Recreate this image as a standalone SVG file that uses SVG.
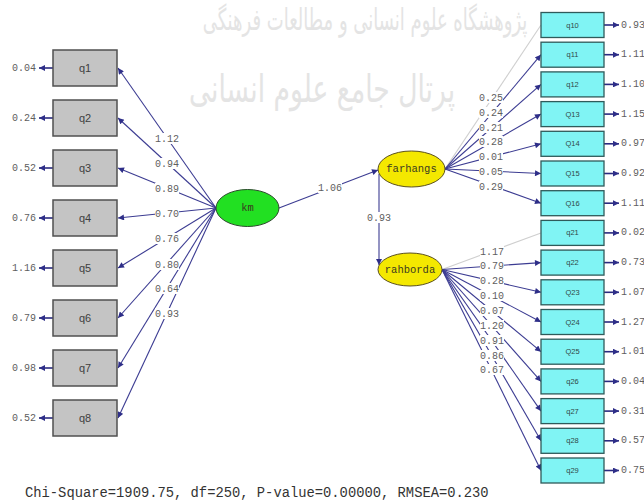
<svg xmlns="http://www.w3.org/2000/svg" width="644" height="502" viewBox="0 0 644 502">
<style>
.wm{font-family:"DejaVu Sans",sans-serif;fill:#e4e4e4;text-anchor:middle}
.lb{fill:#c4c4c4;stroke:#505050;stroke-width:1.5}
.rb{fill:#80f4f4;stroke:#2f5a5a;stroke-width:1.3}
.lt{font-family:"Liberation Sans",Arial,sans-serif;font-size:11px;fill:#404040;text-anchor:middle;dominant-baseline:central}
.rt{font-family:"Liberation Sans",Arial,sans-serif;font-size:7.5px;fill:#304848;text-anchor:middle;dominant-baseline:central}
.num{font-family:"Liberation Mono","Courier New",monospace;font-size:10px;fill:#606060;dominant-baseline:central}
.c{text-anchor:middle}
.e{text-anchor:end}
.bg{fill:#ffffff}
.ln{stroke:#3c3c92;stroke-width:1.1;fill:none;marker-end:url(#ah)}
.fd{stroke:#cfcfcf;stroke-width:1.1;fill:none}
.er{stroke:#2a2a80;stroke-width:1.6;fill:none;marker-end:url(#ah)}
.nt{font-family:"Liberation Mono","Courier New",monospace;font-size:10.5px;fill:#3a3a20;text-anchor:middle;dominant-baseline:central}
</style>
<defs>
<marker id="ah" viewBox="0 0 10 10" refX="10" refY="5" markerWidth="8" markerHeight="6" markerUnits="userSpaceOnUse" orient="auto">
<path d="M0,0 L10,5 L0,10 z" fill="#2e2e88"/>
</marker>
</defs>
<rect width="644" height="502" fill="#ffffff"/>
<g id="watermark">
<text class="wm" transform="translate(365,30) scale(0.6,1)" x="0" y="0" font-size="30">پژوهشگاه علوم انسانی و مطالعات فرهنگی</text>
<text class="wm" transform="translate(322,102) scale(0.7,1)" x="0" y="0" font-size="38">پرتال جامع علوم انسانی</text>
</g>
<g id="connectors">
<line class="ln" x1="216" y1="208" x2="118" y2="68"/>
<line class="ln" x1="216" y1="208" x2="118" y2="118"/>
<line class="ln" x1="216" y1="208" x2="118" y2="168"/>
<line class="ln" x1="216" y1="208" x2="118" y2="218"/>
<line class="ln" x1="216" y1="208" x2="118" y2="268"/>
<line class="ln" x1="216" y1="208" x2="118" y2="318"/>
<line class="ln" x1="216" y1="208" x2="118" y2="368"/>
<line class="ln" x1="216" y1="208" x2="118" y2="418"/>
<line class="ln" x1="279" y1="208" x2="378" y2="170"/>
<line class="ln" x1="379" y1="174" x2="379" y2="265"/>
<line class="fd" x1="445" y1="169" x2="541" y2="25"/>
<line class="ln" x1="445" y1="169" x2="541" y2="54.7"/>
<line class="ln" x1="445" y1="169" x2="541" y2="84.4"/>
<line class="ln" x1="445" y1="169" x2="541" y2="114.1"/>
<line class="ln" x1="445" y1="169" x2="541" y2="143.8"/>
<line class="ln" x1="445" y1="169" x2="541" y2="173.5"/>
<line class="ln" x1="445" y1="169" x2="541" y2="203.2"/>
<line class="fd" x1="442" y1="269.5" x2="541" y2="232.9"/>
<line class="ln" x1="442" y1="269.5" x2="541" y2="262.6"/>
<line class="ln" x1="442" y1="269.5" x2="541" y2="292.3"/>
<line class="ln" x1="442" y1="269.5" x2="541" y2="322"/>
<line class="ln" x1="442" y1="269.5" x2="541" y2="351.7"/>
<line class="ln" x1="442" y1="269.5" x2="541" y2="381.4"/>
<line class="ln" x1="442" y1="269.5" x2="541" y2="411.1"/>
<line class="ln" x1="442" y1="269.5" x2="541" y2="440.8"/>
<line class="ln" x1="442" y1="269.5" x2="541" y2="470.5"/>
<line class="er" x1="53" y1="68" x2="39" y2="68"/>
<line class="er" x1="53" y1="118" x2="39" y2="118"/>
<line class="er" x1="53" y1="168" x2="39" y2="168"/>
<line class="er" x1="53" y1="218" x2="39" y2="218"/>
<line class="er" x1="53" y1="268" x2="39" y2="268"/>
<line class="er" x1="53" y1="318" x2="39" y2="318"/>
<line class="er" x1="53" y1="368" x2="39" y2="368"/>
<line class="er" x1="53" y1="418" x2="39" y2="418"/>
<line class="er" x1="604" y1="25" x2="619" y2="25"/>
<line class="er" x1="604" y1="54.7" x2="619" y2="54.7"/>
<line class="er" x1="604" y1="84.4" x2="619" y2="84.4"/>
<line class="er" x1="604" y1="114.1" x2="619" y2="114.1"/>
<line class="er" x1="604" y1="143.8" x2="619" y2="143.8"/>
<line class="er" x1="604" y1="173.5" x2="619" y2="173.5"/>
<line class="er" x1="604" y1="203.2" x2="619" y2="203.2"/>
<line class="er" x1="604" y1="232.9" x2="619" y2="232.9"/>
<line class="er" x1="604" y1="262.6" x2="619" y2="262.6"/>
<line class="er" x1="604" y1="292.3" x2="619" y2="292.3"/>
<line class="er" x1="604" y1="322" x2="619" y2="322"/>
<line class="er" x1="604" y1="351.7" x2="619" y2="351.7"/>
<line class="er" x1="604" y1="381.4" x2="619" y2="381.4"/>
<line class="er" x1="604" y1="411.1" x2="619" y2="411.1"/>
<line class="er" x1="604" y1="440.8" x2="619" y2="440.8"/>
<line class="er" x1="604" y1="470.5" x2="619" y2="470.5"/>
</g>
<g id="path-labels">
<rect class="bg" x="155" y="133" width="24" height="11"/><text class="num c" x="167" y="139">1.12</text>
<rect class="bg" x="155" y="158" width="24" height="11"/><text class="num c" x="167" y="164">0.94</text>
<rect class="bg" x="155" y="183" width="24" height="11"/><text class="num c" x="167" y="189">0.89</text>
<rect class="bg" x="155" y="208" width="24" height="11"/><text class="num c" x="167" y="214">0.70</text>
<rect class="bg" x="155" y="233" width="24" height="11"/><text class="num c" x="167" y="239">0.76</text>
<rect class="bg" x="155" y="259" width="24" height="11"/><text class="num c" x="167" y="265">0.80</text>
<rect class="bg" x="155" y="283" width="24" height="11"/><text class="num c" x="167" y="289">0.64</text>
<rect class="bg" x="155" y="308" width="24" height="11"/><text class="num c" x="167" y="314">0.93</text>
<rect class="bg" x="318" y="182" width="24" height="11"/><text class="num c" x="330" y="188">1.06</text>
<rect class="bg" x="367" y="212" width="24" height="11"/><text class="num c" x="379" y="218">0.93</text>
<rect class="bg" x="479" y="92" width="24" height="11"/><text class="num c" x="491" y="98">0.25</text>
<rect class="bg" x="479" y="107" width="24" height="11"/><text class="num c" x="491" y="113">0.24</text>
<rect class="bg" x="479" y="122" width="24" height="11"/><text class="num c" x="491" y="128">0.21</text>
<rect class="bg" x="479" y="136" width="24" height="11"/><text class="num c" x="491" y="142">0.28</text>
<rect class="bg" x="479" y="151" width="24" height="11"/><text class="num c" x="491" y="157">0.01</text>
<rect class="bg" x="479" y="166" width="24" height="11"/><text class="num c" x="491" y="172">0.05</text>
<rect class="bg" x="479" y="181" width="24" height="11"/><text class="num c" x="491" y="187">0.29</text>
<rect class="bg" x="480" y="246" width="24" height="11"/><text class="num c" x="492" y="252">1.17</text>
<rect class="bg" x="480" y="260" width="24" height="11"/><text class="num c" x="492" y="266">0.79</text>
<rect class="bg" x="480" y="275" width="24" height="11"/><text class="num c" x="492" y="281">0.28</text>
<rect class="bg" x="480" y="290" width="24" height="11"/><text class="num c" x="492" y="296">0.10</text>
<rect class="bg" x="480" y="305" width="24" height="11"/><text class="num c" x="492" y="311">0.07</text>
<rect class="bg" x="480" y="320" width="24" height="11"/><text class="num c" x="492" y="326">1.20</text>
<rect class="bg" x="480" y="335" width="24" height="11"/><text class="num c" x="492" y="341">0.91</text>
<rect class="bg" x="480" y="350" width="24" height="11"/><text class="num c" x="492" y="356">0.86</text>
<rect class="bg" x="480" y="364" width="24" height="11"/><text class="num c" x="492" y="370">0.67</text>
</g>
<g id="error-labels">
<text class="num e" x="36" y="68">0.04</text>
<text class="num e" x="36" y="118">0.24</text>
<text class="num e" x="36" y="168">0.52</text>
<text class="num e" x="36" y="218">0.76</text>
<text class="num e" x="36" y="268">1.16</text>
<text class="num e" x="36" y="318">0.79</text>
<text class="num e" x="36" y="368">0.98</text>
<text class="num e" x="36" y="418">0.52</text>
<text class="num" x="621" y="25">0.93</text>
<text class="num" x="621" y="54.7">1.11</text>
<text class="num" x="621" y="84.4">1.10</text>
<text class="num" x="621" y="114.1">1.15</text>
<text class="num" x="621" y="143.8">0.97</text>
<text class="num" x="621" y="173.5">0.92</text>
<text class="num" x="621" y="203.2">1.11</text>
<text class="num" x="621" y="232.9">0.02</text>
<text class="num" x="621" y="262.6">0.73</text>
<text class="num" x="621" y="292.3">1.07</text>
<text class="num" x="621" y="322">1.27</text>
<text class="num" x="621" y="351.7">1.01</text>
<text class="num" x="621" y="381.4">0.04</text>
<text class="num" x="621" y="411.1">0.31</text>
<text class="num" x="621" y="440.8">0.57</text>
<text class="num" x="621" y="470.5">0.75</text>
</g>
<g id="q1"><rect class="lb" x="53" y="50" width="64" height="36"/><text class="lt" x="85" y="68">q1</text></g>
<g id="q2"><rect class="lb" x="53" y="100" width="64" height="36"/><text class="lt" x="85" y="118">q2</text></g>
<g id="q3"><rect class="lb" x="53" y="150" width="64" height="36"/><text class="lt" x="85" y="168">q3</text></g>
<g id="q4"><rect class="lb" x="53" y="200" width="64" height="36"/><text class="lt" x="85" y="218">q4</text></g>
<g id="q5"><rect class="lb" x="53" y="250" width="64" height="36"/><text class="lt" x="85" y="268">q5</text></g>
<g id="q6"><rect class="lb" x="53" y="300" width="64" height="36"/><text class="lt" x="85" y="318">q6</text></g>
<g id="q7"><rect class="lb" x="53" y="350" width="64" height="36"/><text class="lt" x="85" y="368">q7</text></g>
<g id="q8"><rect class="lb" x="53" y="400" width="64" height="36"/><text class="lt" x="85" y="418">q8</text></g>
<g id="km"><ellipse cx="247.5" cy="208" rx="31.5" ry="18.5" fill="#22e022" stroke="#2a4a2a" stroke-width="1"/><text class="nt" x="247.5" y="208" font-size="9px">km</text></g>
<g id="farhangs"><ellipse cx="411.5" cy="169" rx="33.5" ry="18" fill="#f4e800" stroke="#5a5020" stroke-width="1"/><text class="nt" x="411.5" y="169">farhangs</text></g>
<g id="rahborda"><ellipse cx="410" cy="269.5" rx="32" ry="16.5" fill="#f4e800" stroke="#5a5020" stroke-width="1"/><text class="nt" x="410" y="269.5">rahborda</text></g>
<g id="q10"><rect class="rb" x="541" y="12.5" width="63" height="25"/><text class="rt" x="572.5" y="25">q10</text></g>
<g id="q11"><rect class="rb" x="541" y="42.2" width="63" height="25"/><text class="rt" x="572.5" y="54.7">q11</text></g>
<g id="q12"><rect class="rb" x="541" y="71.9" width="63" height="25"/><text class="rt" x="572.5" y="84.4">q12</text></g>
<g id="Q13"><rect class="rb" x="541" y="101.6" width="63" height="25"/><text class="rt" x="572.5" y="114.1">Q13</text></g>
<g id="Q14"><rect class="rb" x="541" y="131.3" width="63" height="25"/><text class="rt" x="572.5" y="143.8">Q14</text></g>
<g id="Q15"><rect class="rb" x="541" y="161" width="63" height="25"/><text class="rt" x="572.5" y="173.5">Q15</text></g>
<g id="Q16"><rect class="rb" x="541" y="190.7" width="63" height="25"/><text class="rt" x="572.5" y="203.2">Q16</text></g>
<g id="q21"><rect class="rb" x="541" y="220.4" width="63" height="25"/><text class="rt" x="572.5" y="232.9">q21</text></g>
<g id="q22"><rect class="rb" x="541" y="250.1" width="63" height="25"/><text class="rt" x="572.5" y="262.6">q22</text></g>
<g id="Q23"><rect class="rb" x="541" y="279.8" width="63" height="25"/><text class="rt" x="572.5" y="292.3">Q23</text></g>
<g id="Q24"><rect class="rb" x="541" y="309.5" width="63" height="25"/><text class="rt" x="572.5" y="322">Q24</text></g>
<g id="Q25"><rect class="rb" x="541" y="339.2" width="63" height="25"/><text class="rt" x="572.5" y="351.7">Q25</text></g>
<g id="q26"><rect class="rb" x="541" y="368.9" width="63" height="25"/><text class="rt" x="572.5" y="381.4">q26</text></g>
<g id="q27"><rect class="rb" x="541" y="398.6" width="63" height="25"/><text class="rt" x="572.5" y="411.1">q27</text></g>
<g id="q28"><rect class="rb" x="541" y="428.3" width="63" height="25"/><text class="rt" x="572.5" y="440.8">q28</text></g>
<g id="q29"><rect class="rb" x="541" y="458" width="63" height="25"/><text class="rt" x="572.5" y="470.5">q29</text></g>
<text x="25" y="497" font-family="'Liberation Mono','Courier New',monospace" font-size="13.8px" fill="#333333">Chi-Square=1909.75, df=250, P-value=0.00000, RMSEA=0.230</text>
</svg>
